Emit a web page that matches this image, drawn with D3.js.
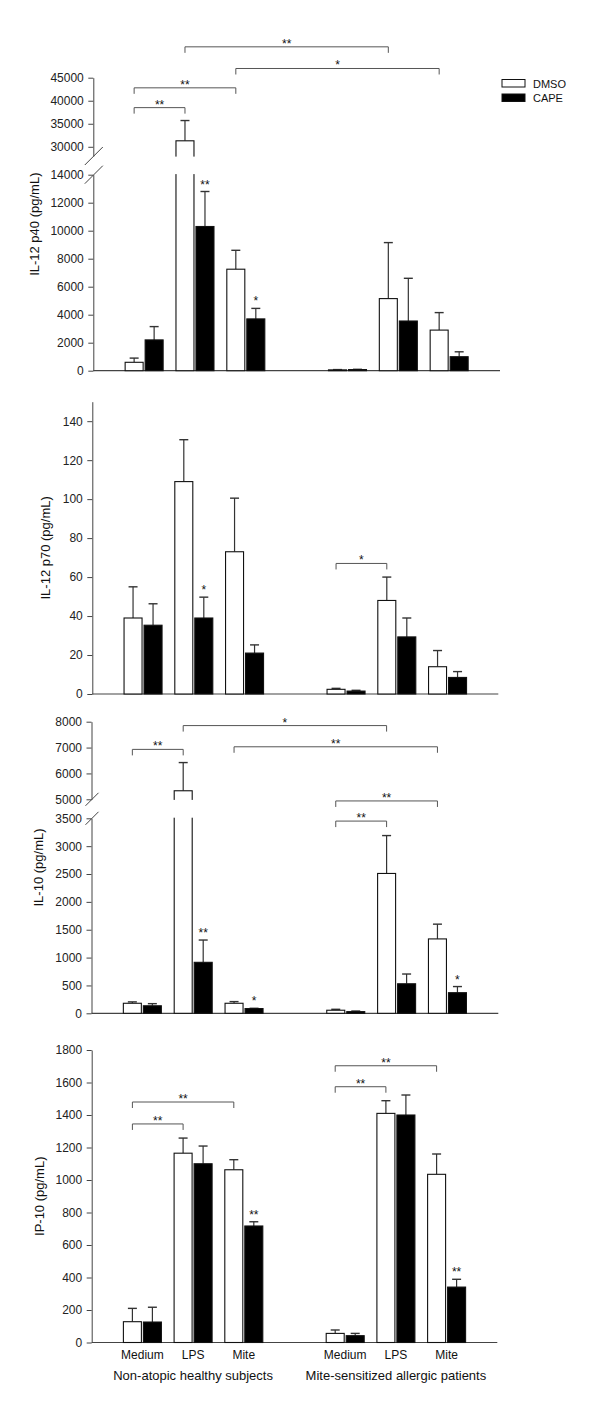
<!DOCTYPE html>
<html><head><meta charset="utf-8">
<script src="https://cdn.jsdelivr.net/npm/d3@7"></script>
<style>
body{margin:0;background:#fff;}
svg{display:block;font-family:"Liberation Sans",Arial,sans-serif;}
</style></head><body>
<svg id="chart" width="600" height="1406"></svg>
<script>
// ---------------- data ----------------
const categories = ["Medium", "LPS", "Mite"];
const groups = ["Non-atopic healthy subjects", "Mite-sensitized allergic patients"];
const seriesNames = ["DMSO", "CAPE"];

// IL-12 p40 (pg/mL) ; order: healthy Medium, LPS, Mite, allergic Medium, LPS, Mite
const p40DMSO    = [600, 31300, 7250, 60, 5150, 2900];
const p40DMSOErr = [300, 4400, 1350, 20, 4000, 1250];
const p40CAPE    = [2200, 10300, 3700, 80, 3550, 1000];
const p40CAPEErr = [950, 2500, 750, 20, 3050, 350];
const p40LowTicks  = [0, 2000, 4000, 6000, 8000, 10000, 12000, 14000];
const p40HighTicks = [30000, 35000, 40000, 45000];
const p40Brackets = [[1, 4, 51700, "**"], [2, 5, 47000, "*"], [0, 2, 42800, "**"], [0, 1, 38500, "**"]];
const p40Stars = [[1, "CAPE", "**"], [2, "CAPE", "*"]];

// IL-12 p70 (pg/mL)
const p70DMSO    = [39, 109, 73, 2.4, 48, 14];
const p70DMSOErr = [16, 21.5, 27.5, 0.5, 12, 8.3];
const p70CAPE    = [35.3, 39, 21, 1.5, 29.3, 8.5];
const p70CAPEErr = [11, 10.7, 4.2, 0.4, 9.7, 3];
const p70Ticks = [0, 20, 40, 60, 80, 100, 120, 140];
const p70Brackets = [[3, 4, 67, "*"]];
const p70Stars = [[1, "CAPE", "*"]];

// IL-10 (pg/mL)
const il10DMSO    = [180, 5330, 180, 55, 2510, 1335];
const il10DMSOErr = [25, 1090, 30, 17, 680, 265];
const il10CAPE    = [135, 915, 85, 30, 530, 370];
const il10CAPEErr = [38, 400, 5, 11, 175, 110];
const il10LowTicks  = [0, 500, 1000, 1500, 2000, 2500, 3000, 3500];
const il10HighTicks = [5000, 6000, 7000, 8000];
const il10Brackets = [[1, 4, 7850, "*"], [2, 5, 7030, "**"], [0, 1, 6930, "**"], [3, 5, 4870, "**"], [3, 4, 3450, "**"]];
const il10Stars = [[1, "CAPE", "**"], [2, "CAPE", "*"], [5, "CAPE", "*"]];

// IP-10 (pg/mL)
const ip10DMSO    = [128, 1165, 1063, 56, 1410, 1035];
const ip10DMSOErr = [82, 93, 62, 21, 78, 125];
const ip10CAPE    = [126, 1100, 717, 42, 1400, 341];
const ip10CAPEErr = [91, 109, 26, 14, 123, 48];
const ip10Ticks = [0, 200, 400, 600, 800, 1000, 1200, 1400, 1600, 1800];
const ip10Brackets = [[3, 5, 1703, "**"], [3, 4, 1574, "**"], [0, 2, 1480, "**"], [0, 1, 1345, "**"]];
const ip10Stars = [[2, "CAPE", "**"], [5, "CAPE", "**"]];

// ---------------- layout ----------------
const panels = [
  { title: "IL-12 p40 (pg/mL)", means: { DMSO: p40DMSO, CAPE: p40CAPE }, errs: { DMSO: p40DMSOErr, CAPE: p40CAPEErr },
    left: 93.3, right: 500, lowDomain: [0, 14000], lowRange: [370.7, 174.7], lowTicks: p40LowTicks,
    upDomain: [28000, 45000], upRange: [156, 77.7], upTicks: p40HighTicks, slash: 9, labelX: 34,
    brackets: p40Brackets, stars: p40Stars, legend: true },
  { title: "IL-12 p70 (pg/mL)", means: { DMSO: p70DMSO, CAPE: p70CAPE }, errs: { DMSO: p70DMSOErr, CAPE: p70CAPEErr },
    left: 92.3, right: 498.3, lowDomain: [0, 150], lowRange: [694, 401.7], lowTicks: p70Ticks, labelX: 45.5,
    brackets: p70Brackets, stars: p70Stars },
  { title: "IL-10 (pg/mL)", means: { DMSO: il10DMSO, CAPE: il10CAPE }, errs: { DMSO: il10DMSOErr, CAPE: il10CAPEErr },
    left: 91.5, right: 498.3, lowDomain: [0, 3500], lowRange: [1013.3, 818.3], lowTicks: il10LowTicks,
    upDomain: [5000, 8000], upRange: [799.3, 721.7], upTicks: il10HighTicks, slash: 6.5, labelX: 38.5,
    brackets: il10Brackets, stars: il10Stars },
  { title: "IP-10 (pg/mL)", means: { DMSO: ip10DMSO, CAPE: ip10CAPE }, errs: { DMSO: ip10DMSOErr, CAPE: ip10CAPEErr },
    left: 91.7, right: 497.3, lowDomain: [0, 1800], lowRange: [1342.5, 1050], lowTicks: ip10Ticks, labelX: 39.5,
    brackets: ip10Brackets, stars: ip10Stars, xlabels: true }
];

const svg = d3.select("#chart");
const fills = { DMSO: "#ffffff", CAPE: "#000000" };
const slotKeys = ["start", 0, 1, 2, "gap", 3, 4, 5, "end"];

function styleAxis(sel) {
  sel.attr("font-family", null).attr("font-size", null);
  sel.selectAll("path,line").attr("stroke", "#444").attr("stroke-width", 1);
  sel.selectAll("text").attr("fill", "#222").style("font-size", "12px");
}

panels.forEach(p => {
  const g = svg.append("g");
  const x = d3.scalePoint().domain(slotKeys).range([p.left, p.right]);
  const sub = d3.scaleBand().domain(seriesNames).range([-19, 19]).paddingInner(0.1);
  const bw = sub.bandwidth();
  const lower = d3.scaleLinear().domain(p.lowDomain).range(p.lowRange);
  let upper = null, y = lower;
  if (p.upDomain) {
    upper = d3.scaleLinear().domain(p.upDomain).range(p.upRange);
    y = d3.scaleLinear().domain([...p.lowDomain, ...p.upDomain]).range([...p.lowRange, ...p.upRange]);
  }

  // y axes
  const axLow = d3.axisLeft(lower).tickValues(p.lowTicks).tickSize(5).tickSizeOuter(0).tickPadding(4.5).tickFormat(d3.format("d"));
  g.append("g").attr("transform", `translate(${p.left},0)`).call(axLow).call(styleAxis);
  if (upper) {
    const axUp = d3.axisLeft(upper).tickValues(p.upTicks).tickSize(5).tickSizeOuter(0).tickPadding(4.5).tickFormat(d3.format("d"));
    g.append("g").attr("transform", `translate(${p.left},0)`).call(axUp).call(styleAxis);
    [p.upRange[0], p.lowRange[1]].forEach(yb => {
      g.append("line")
        .attr("x1", p.left + 0.5 - p.slash).attr("y1", yb + p.slash)
        .attr("x2", p.left + 0.5 + p.slash).attr("y2", yb - p.slash)
        .attr("stroke", "#444").attr("stroke-width", 1);
    });
  }
  // x axis line
  g.append("line").attr("x1", p.left).attr("x2", p.right)
    .attr("y1", lower(0)).attr("y2", lower(0)).attr("stroke", "#444").attr("stroke-width", 1.2);

  // y label
  const topY = upper ? p.upRange[1] : p.lowRange[1];
  g.append("text")
    .attr("transform", `translate(${p.labelX},${(p.lowRange[0] + topY) / 2}) rotate(-90)`)
    .attr("text-anchor", "middle").attr("dominant-baseline", "central")
    .attr("fill", "#111").style("font-size", "13px").text(p.title);

  // bars + error bars
  seriesNames.forEach(s => {
    p.means[s].forEach((v, i) => {
      const x0 = x(i) + sub(s);
      const cx = x0 + bw / 2;
      const top = y(v + p.errs[s][i]);
      g.append("line").attr("x1", cx).attr("x2", cx).attr("y1", y(v)).attr("y2", top)
        .attr("stroke", "#333").attr("stroke-width", 1.2);
      g.append("line").attr("x1", cx - 4.5).attr("x2", cx + 4.5).attr("y1", top).attr("y2", top)
        .attr("stroke", "#333").attr("stroke-width", 1.4);
      g.append("rect").attr("x", x0).attr("y", y(v)).attr("width", bw)
        .attr("height", Math.max(0, lower(0) - y(v)))
        .attr("fill", fills[s]).attr("stroke", "#111").attr("stroke-width", 1.1);
      if (upper && v > p.lowDomain[1]) {
        g.append("rect").attr("x", x0 - 2).attr("width", bw + 4)
          .attr("y", p.upRange[0] + 0.6).attr("height", p.lowRange[1] - p.upRange[0] - 1.2)
          .attr("fill", "#fff");
      }
    });
  });

  // bar stars
  p.stars.forEach(([i, s, lab]) => {
    const cx = x(i) + sub(s) + bw / 2;
    g.append("text").attr("x", cx).attr("y", y(p.means[s][i] + p.errs[s][i]) - 3)
      .attr("text-anchor", "middle").attr("fill", "#111").style("font-size", "12px").text(lab);
  });

  // brackets
  p.brackets.forEach(([a, b, lvl, lab]) => {
    const xa = x(a) + sub("DMSO") + bw / 2;
    const xb = x(b) + sub("DMSO") + bw / 2;
    const ly = y(lvl);
    g.append("path").attr("d", `M${xa},${ly + 6}V${ly}H${xb}V${ly + 6}`)
      .attr("fill", "none").attr("stroke", "#555").attr("stroke-width", 1);
    g.append("text").attr("x", (xa + xb) / 2).attr("y", ly + 1)
      .attr("text-anchor", "middle").attr("fill", "#111").style("font-size", "12px").text(lab);
  });

  // legend
  if (p.legend) {
    const lg = svg.append("g").attr("transform", "translate(502,0)");
    const ly = d3.scalePoint().domain(seriesNames).range([79.5, 94]);
    seriesNames.forEach(s => {
      lg.append("rect").attr("x", 0).attr("y", ly(s)).attr("width", 23).attr("height", 7.5)
        .attr("fill", fills[s]).attr("stroke", "#111").attr("stroke-width", 1);
      lg.append("text").attr("x", 31).attr("y", ly(s) + 8).attr("fill", "#111")
        .style("font-size", "11px").text(s);
    });
  }

  // x labels
  if (p.xlabels) {
    [0, 1].forEach(gi => {
      categories.forEach((c, ci) => {
        g.append("text").attr("x", x(gi * 3 + ci)).attr("y", 1359)
          .attr("text-anchor", "middle").attr("fill", "#111").style("font-size", "12px").text(c);
      });
      g.append("text").attr("x", x(gi * 3 + 1)).attr("y", 1379.5)
        .attr("text-anchor", "middle").attr("fill", "#111").style("font-size", "13px").text(groups[gi]);
    });
  }
});
</script>
</body></html>
